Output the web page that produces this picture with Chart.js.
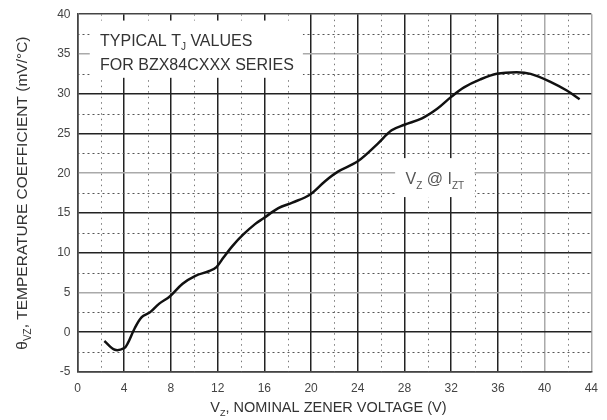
<!DOCTYPE html>
<html>
<head>
<meta charset="utf-8">
<script src="https://cdn.jsdelivr.net/npm/chart.js@4/dist/chart.umd.min.js"></script>
<style>
  html, body { margin: 0; padding: 0; background: #fff; }
  #wrap { width: 607px; height: 420px; position: relative; }
</style>
</head>
<body>
<div id="wrap"><canvas id="chart"></canvas></div>
<script>
// Data
const vz = [2.3, 3.2, 4.0, 4.3, 4.9, 5.5, 6.2, 7.0, 7.9, 9.0, 10.1, 11.3, 11.9, 12.5, 13.3, 14.2, 15.2, 15.9, 17.2, 18.4, 19.9, 21.2, 22.3, 24.0, 25.7, 26.9, 28.0, 29.5, 30.8, 32.0, 33.1, 34.5, 35.9, 37.6, 38.8, 40.5, 41.9, 43.0];
const tc = [-1.1, -2.2, -2.0, -1.4, 0.5, 1.9, 2.5, 3.6, 4.5, 6.1, 7.1, 7.7, 8.2, 9.4, 10.9, 12.3, 13.6, 14.3, 15.6, 16.3, 17.3, 19.0, 20.2, 21.5, 23.7, 25.4, 26.1, 26.9, 28.1, 29.6, 30.8, 31.8, 32.5, 32.7, 32.5, 31.5, 30.4, 29.3];

// Axis tick labels
const xTickLabels = [0, 4, 8, 12, 16, 20, 24, 28, 32, 36, 40, 44];
const yTickLabels = [-5, 0, 5, 10, 15, 20, 25, 30, 35, 40];

// Grid lines drawn lighter in the original
const xLightLines = [40, 44];
const yLightLines = [5, 20, 35];

const FONT = '"Liberation Sans", Arial, sans-serif';

// draw a string made of [text, isSub] parts
function drawRich(ctx, parts, x, y, size, align) {
    const subSize = Math.round(size * 0.62);
    let total = 0;
    parts.forEach(p => {
        ctx.font = `${p[1] ? subSize : size}px ${FONT}`;
        total += ctx.measureText(p[0]).width;
    });
    let cx = align === 'center' ? x - total / 2 : x;
    ctx.textAlign = 'left';
    ctx.textBaseline = 'alphabetic';
    parts.forEach(p => {
        ctx.font = `${p[1] ? subSize : size}px ${FONT}`;
        ctx.fillText(p[0], cx, p[1] ? y + size * 0.28 : y);
        cx += ctx.measureText(p[0]).width;
    });
}

const overlay = {
    id: 'overlay',
    beforeDatasetsDraw(chart) {
        const { ctx, chartArea: a, scales: { x, y } } = chart;
        ctx.save();

        // minor dotted grid
        ctx.lineWidth = 1;
        ctx.strokeStyle = '#777';
        ctx.setLineDash([1.5, 4]);
        x.ticks.forEach(t => {
            if (t.value % 4 === 0) return;
            const px = Math.round(x.getPixelForValue(t.value)) + 0.5;
            ctx.beginPath(); ctx.moveTo(px, a.top); ctx.lineTo(px, a.bottom); ctx.stroke();
        });
        ctx.strokeStyle = '#555';
        ctx.setLineDash([2, 3]);
        y.ticks.forEach(t => {
            if (t.value % 5 === 0) return;
            const py = Math.round(y.getPixelForValue(t.value)) + 0.5;
            ctx.beginPath(); ctx.moveTo(a.left, py); ctx.lineTo(a.right, py); ctx.stroke();
        });
        ctx.setLineDash([]);

        // note boxes
        ctx.fillStyle = '#fff';
        const b1 = [x.getPixelForValue(1.05), y.getPixelForValue(39.2), x.getPixelForValue(19.3), y.getPixelForValue(32.0)];
        ctx.fillRect(b1[0], b1[1], b1[2] - b1[0], b1[3] - b1[1]);
        const b2 = [x.getPixelForValue(27.2), y.getPixelForValue(21.9), x.getPixelForValue(34.0), y.getPixelForValue(17.0)];
        ctx.fillRect(b2[0], b2[1], b2[2] - b2[0], b2[3] - b2[1]);

        ctx.fillStyle = '#333';
        drawRich(ctx, [['TYPICAL T', false], ['J', true], [' VALUES', false]], x.getPixelForValue(1.93), y.getPixelForValue(36.0), 16, 'left');
        drawRich(ctx, [['FOR BZX84CXXX SERIES', false]], x.getPixelForValue(1.93), y.getPixelForValue(33.0), 16, 'left');
        ctx.fillStyle = '#555';
        drawRich(ctx, [['V', false], ['Z', true], [' @ I', false], ['ZT', true]], x.getPixelForValue(30.6), y.getPixelForValue(18.6), 16, 'center');

        ctx.restore();
    },
    afterDraw(chart) {
        const { ctx, chartArea: a } = chart;
        ctx.save();
        ctx.fillStyle = '#333';
        drawRich(ctx, [['V', false], ['Z', true], [', NOMINAL ZENER VOLTAGE (V)', false]], (a.left + a.right) / 2 - 6, a.bottom + 40, 14.5, 'center');
        ctx.translate(a.left - 50.5, (a.top + a.bottom) / 2);
        ctx.rotate(-Math.PI / 2);
        drawRich(ctx, [['θ', false], ['VZ', true], [', TEMPERATURE COEFFICIENT (mV/°C)', false]], 0, 0, 15.5, 'center');
        ctx.restore();
    }
};

const points = vz.map((v, i) => ({ x: v, y: tc[i] }));

new Chart(document.getElementById('chart'), {
    type: 'line',
    data: {
        datasets: [{
            data: points,
            borderColor: '#111',
            borderWidth: 2.5,
            pointRadius: 0,
            tension: 0.35,
            fill: false
        }]
    },
    options: {
        responsive: true,
        maintainAspectRatio: false,
        animation: false,
        layout: { padding: { top: 11, right: 12, left: 0, bottom: 0 } },
        plugins: { legend: { display: false }, tooltip: { enabled: false } },
        scales: {
            x: {
                type: 'linear',
                min: 0,
                max: 44,
                afterFit: s => { s.height = 48; },
                border: { color: '#444', width: 1.5 },
                grid: {
                    drawTicks: false,
                    lineWidth: 1.5,
                    color: c => {
                        const v = c.tick.value;
                        if (v % 4 !== 0) return 'rgba(0,0,0,0)';
                        return xLightLines.includes(v) ? '#aaa' : '#222';
                    }
                },
                ticks: {
                    stepSize: 2,
                    autoSkip: false,
                    maxRotation: 0,
                    padding: 9,
                    color: '#444',
                    font: { family: FONT, size: 12 },
                    callback: v => xTickLabels.includes(v) ? String(v) : ''
                }
            },
            y: {
                min: -5,
                max: 40,
                afterFit: s => { s.width = 77.5; },
                border: { color: '#444', width: 1.5 },
                grid: {
                    drawTicks: false,
                    lineWidth: 1.5,
                    color: c => {
                        const v = c.tick.value;
                        if (v % 5 !== 0) return 'rgba(0,0,0,0)';
                        if (v === 40) return '#444';
                        return yLightLines.includes(v) ? '#aaa' : '#222';
                    }
                },
                ticks: {
                    stepSize: 2.5,
                    autoSkip: false,
                    padding: 7,
                    color: '#444',
                    font: { family: FONT, size: 12 },
                    callback: v => yTickLabels.includes(v) ? String(v) : ''
                }
            }
        }
    },
    plugins: [overlay]
});
</script>
</body>
</html>
